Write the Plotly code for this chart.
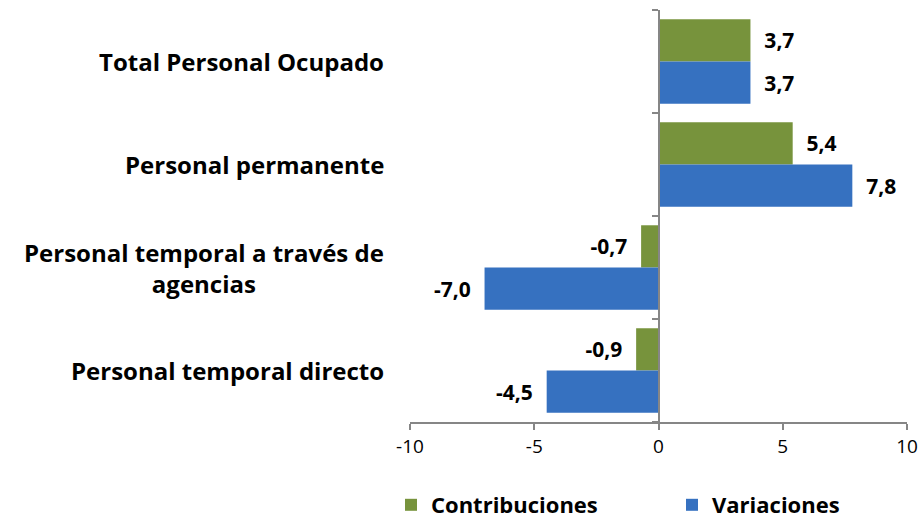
import plotly.graph_objects as go

categories = ["Total Personal Ocupado", "Personal permanente",
              "Personal temporal a través de<br>agencias", "Personal temporal directo"]
contribuciones = [3.7, 5.4, -0.7, -0.9]
variaciones = [3.7, 7.8, -7.0, -4.5]
x_tickvals = [-10, -5, 0, 5, 10]
x_ticktext = ["-10", "-5", "0", "5", "10"]

FONT = "Open Sans"
GREEN = "#77933C"
BLUE = "#3671C0"
AXIS = "#868686"
PAD = "\u00a0\u00a0"
W, H = 922, 520


def fmt(v):
    return f"{v:.1f}".replace(".", ",")


def labels(vals):
    return [(PAD + fmt(v)) if v >= 0 else (fmt(v) + PAD) for v in vals]


fig = go.Figure()
fig.add_trace(go.Bar(
    name="Contribuciones", y=categories, x=contribuciones, orientation="h",
    marker=dict(color=GREEN, line=dict(width=0)), legend="legend",
    text=labels(contribuciones), textposition="outside", constraintext="none",
    cliponaxis=False, textfont=dict(family=FONT, size=21, color="black", weight="bold"),
))
fig.add_trace(go.Bar(
    name="Variaciones", y=categories, x=variaciones, orientation="h",
    marker=dict(color=BLUE, line=dict(width=0)), legend="legend2",
    text=labels(variaciones), textposition="outside", constraintext="none",
    cliponaxis=False, textfont=dict(family=FONT, size=21, color="black", weight="bold"),
))
# invisible helper trace so the vertical axis at x=0 is drawn
fig.add_trace(go.Scatter(x=[0, 0], y=[-0.5, len(categories) - 0.5], yaxis="y2",
                         mode="lines", line=dict(width=0), showlegend=False,
                         hoverinfo="skip"))

for i, c in enumerate(categories):
    fig.add_annotation(x=0, xref="paper", xanchor="right", xshift=-24,
                       y=c, yref="y", yanchor="middle", text=c, showarrow=False,
                       align="center",
                       font=dict(family=FONT, size=24, color="black", weight="bold"))

legend_font = dict(family=FONT, size=22, color="black", weight="bold")

fig.update_layout(
    width=W, height=H,
    margin=dict(l=410, r=15, t=10, b=98, autoexpand=False),
    plot_bgcolor="white", paper_bgcolor="white",
    barmode="group", bargap=0.18, bargroupgap=0,
    font=dict(family=FONT, color="black"),
    xaxis=dict(range=[-10, 10], tickvals=x_tickvals, ticktext=x_ticktext,
               showline=True, linecolor=AXIS, linewidth=1.5, ticks="outside",
               ticklen=6, tickcolor=AXIS, tickwidth=1.5, showgrid=False,
               zeroline=False, automargin=False,
               tickfont=dict(family=FONT, size=19, color="black")),
    yaxis=dict(type="category", categoryorder="array", categoryarray=categories,
               range=[len(categories) - 0.5, -0.5], showticklabels=False,
               showline=False, showgrid=False, zeroline=False, ticks="",
               automargin=False),
    yaxis2=dict(overlaying="y", anchor="free", position=0.5, side="left",
                range=[len(categories) - 0.5, -0.5],
                tickvals=[i - 0.5 for i in range(len(categories) + 1)],
                showticklabels=False, ticks="outside", ticklen=6, tickcolor=AXIS,
                tickwidth=1.5, showline=True, linecolor=AXIS, linewidth=1.5,
                showgrid=False, zeroline=False, automargin=False),
    legend=dict(orientation="h", xref="container", x=391 / W, xanchor="left",
                yref="container", y=1 - 505 / H, yanchor="middle", font=legend_font),
    legend2=dict(orientation="h", xref="container", x=672 / W, xanchor="left",
                 yref="container", y=1 - 505 / H, yanchor="middle", font=legend_font),
    showlegend=True,
)

fig.write_html("out.html", config={"displayModeBar": False},
               post_script="document.body.style.margin='0';")
